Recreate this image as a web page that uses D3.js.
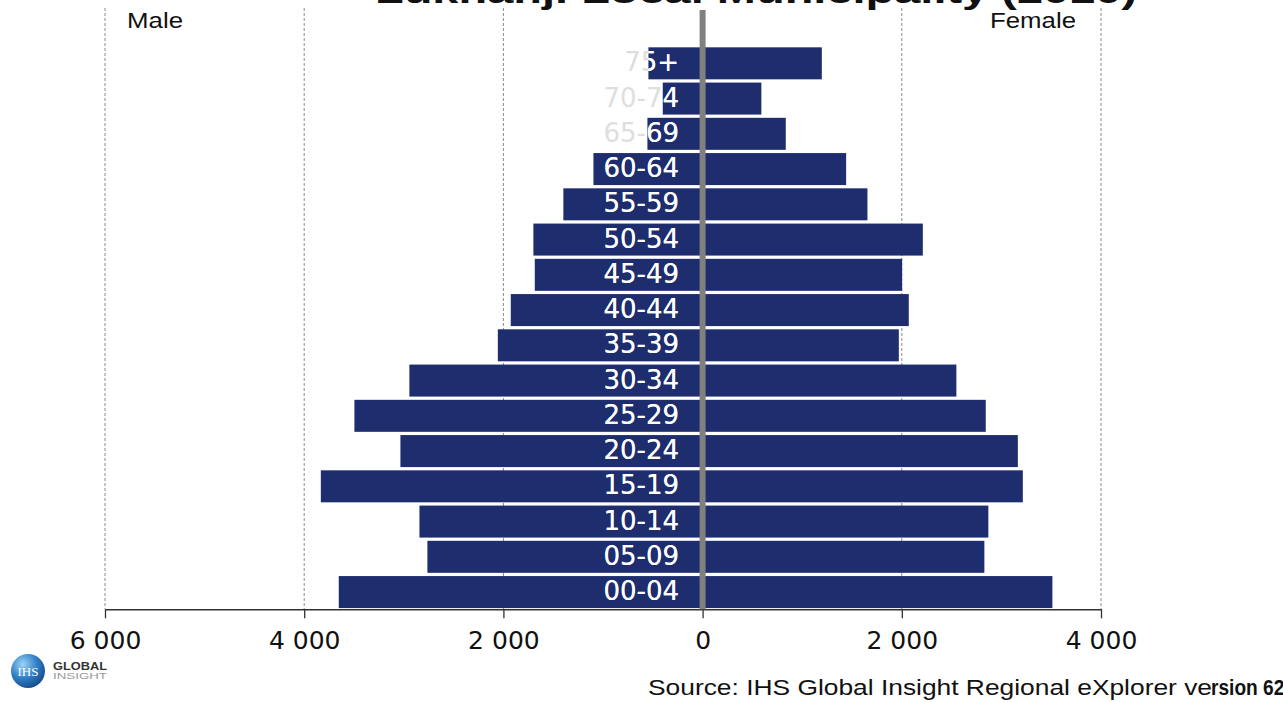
<!DOCTYPE html>
<html>
<head>
<meta charset="utf-8">
<script src="https://cdn.jsdelivr.net/npm/d3@7/dist/d3.min.js"></script>
<style>
  html, body { margin: 0; padding: 0; background: #ffffff; }
  svg { display: block; }
</style>
</head>
<body>
<svg id="chart" width="1283" height="702"></svg>
<script>
// Age groups, oldest at the top
const ageGroups = ["75+", "70-74", "65-69", "60-64", "55-59", "50-54", "45-49", "40-44",
                   "35-39", "30-34", "25-29", "20-24", "15-19", "10-14", "05-09", "00-04"];
// Population counts per age group
const maleValues   = [544, 400, 554, 1096, 1398, 1699, 1685, 1926,
                      2056, 2944, 3496, 3034, 3833, 2843, 2763, 3653];
const femaleValues = [1197, 590, 835, 1441, 1655, 2211, 2003, 2070,
                      1970, 2548, 2843, 3165, 3215, 2869, 2829, 3512];
const tickValues = [-6000, -4000, -2000, 0, 2000, 4000];
const titleText = "Lukhanji Local Municipality (2010)";
const sourceText = "Source: IHS Global Insight Regional eXplorer ve";
const sourceTail = "rsion 620";

const rows = ageGroups.map((g, i) => ({ age: g, male: maleValues[i], female: femaleValues[i] }));

const svg = d3.select("#chart");
const barColor = "#1d2d6e";

const x = d3.scaleLinear().domain([-6000, 4000]).range([105, 1101]);
const y = d3.scaleBand().domain(ageGroups).range([45.7, 609.7])
  .paddingInner(0.092).paddingOuter(0.046);
const axisY = 609.3;

// Title (runs off the top edge)
svg.append("text")
  .attr("x", 375).attr("y", 3)
  .attr("textLength", 762).attr("lengthAdjust", "spacingAndGlyphs")
  .style("font-family", "'Liberation Sans', Arial, sans-serif")
  .style("font-weight", "bold").style("font-size", "32px").attr("fill", "#111")
  .text(titleText);

// Dashed vertical gridlines
svg.append("g").selectAll("line")
  .data(tickValues.filter(v => v !== 0))
  .join("line")
  .attr("x1", d => x(d)).attr("x2", d => x(d))
  .attr("y1", 8).attr("y2", axisY)
  .attr("stroke", "#8a8a8a").attr("stroke-width", 1)
  .attr("stroke-dasharray", "3,2");

// Male bars extend left from zero, female bars to the right
svg.append("g").selectAll("rect")
  .data(rows).join("rect")
  .attr("x", d => x(-d.male)).attr("y", d => y(d.age))
  .attr("width", d => x(0) - x(-d.male)).attr("height", y.bandwidth())
  .attr("fill", barColor);

svg.append("g").selectAll("rect")
  .data(rows).join("rect")
  .attr("x", x(0)).attr("y", d => y(d.age))
  .attr("width", d => x(d.female) - x(0)).attr("height", y.bandwidth())
  .attr("fill", barColor);

// Clip region made of the male bars, so labels turn white over the bars
const clip = svg.append("defs").append("clipPath").attr("id", "maleBars");
clip.selectAll("rect").data(rows).join("rect")
  .attr("x", d => x(-d.male)).attr("y", d => y(d.age))
  .attr("width", d => x(0) - x(-d.male)).attr("height", y.bandwidth());

const labelFont = "'DejaVu Sans', Verdana, sans-serif";
function drawLabels(g, color) {
  g.selectAll("text").data(rows).join("text")
    .attr("x", 679)
    .attr("y", d => y(d.age) + y.bandwidth() / 2 + 8)
    .attr("text-anchor", "end")
    .style("font-family", labelFont).style("font-size", "26px")
    .attr("fill", color)
    .text(d => d.age);
}
drawLabels(svg.append("g"), "#dedede");
drawLabels(svg.append("g").attr("clip-path", "url(#maleBars)"), "#ffffff");

// Horizontal axis
const fmt = v => d3.format(",")(Math.abs(v)).replace(/,/g, " ");
const axis = svg.append("g")
  .attr("transform", `translate(0,${axisY})`)
  .call(d3.axisBottom(x).tickValues(tickValues).tickFormat(fmt)
    .tickSize(9).tickSizeOuter(0).tickPadding(13));
axis.select(".domain").attr("stroke", "#333").attr("stroke-width", 1.5);
axis.selectAll(".tick line").attr("stroke", "#333").attr("stroke-width", 1.3);
axis.selectAll(".tick text")
  .style("font-family", labelFont).style("font-size", "25px").attr("fill", "#111");

// Centre line at zero
svg.append("line")
  .attr("x1", x(0)).attr("x2", x(0)).attr("y1", 10).attr("y2", axisY)
  .attr("stroke", "#808080").attr("stroke-width", 6);

// Side captions
const captionFont = "'Liberation Sans', Arial, sans-serif";
svg.append("text").attr("x", 127).attr("y", 28)
  .attr("textLength", 56).attr("lengthAdjust", "spacingAndGlyphs")
  .style("font-family", captionFont).style("font-size", "22px").attr("fill", "#111")
  .text("Male");
svg.append("text").attr("x", 990).attr("y", 28)
  .attr("textLength", 86).attr("lengthAdjust", "spacingAndGlyphs")
  .style("font-family", captionFont).style("font-size", "22px").attr("fill", "#111")
  .text("Female");

// Source note
svg.append("text").attr("x", 648).attr("y", 695)
  .attr("textLength", 564).attr("lengthAdjust", "spacingAndGlyphs")
  .style("font-family", captionFont).style("font-size", "22px").attr("fill", "#111")
  .text(sourceText);
svg.append("text").attr("x", 1211).attr("y", 695)
  .attr("textLength", 84).attr("lengthAdjust", "spacingAndGlyphs")
  .style("font-family", captionFont).style("font-size", "22px")
  .style("font-weight", "bold").attr("fill", "#111")
  .text(sourceTail);

// Publisher logo
const grad = svg.append("defs").append("radialGradient").attr("id", "logoGrad")
  .attr("cx", "35%").attr("cy", "30%").attr("r", "75%");
grad.append("stop").attr("offset", "0%").attr("stop-color", "#9fd3f5");
grad.append("stop").attr("offset", "55%").attr("stop-color", "#2f7fc6");
grad.append("stop").attr("offset", "100%").attr("stop-color", "#174a8a");
svg.append("circle").attr("cx", 28).attr("cy", 671).attr("r", 17)
  .attr("fill", "url(#logoGrad)");
svg.append("text").attr("x", 28).attr("y", 676).attr("text-anchor", "middle")
  .style("font-family", "'Liberation Serif', serif").style("font-size", "13px")
  .attr("fill", "#fff").text("IHS");
svg.append("text").attr("x", 53).attr("y", 670)
  .attr("textLength", 54).attr("lengthAdjust", "spacingAndGlyphs")
  .style("font-family", captionFont).style("font-size", "10px")
  .style("font-weight", "bold").attr("fill", "#333").text("GLOBAL");
svg.append("text").attr("x", 53).attr("y", 679)
  .attr("textLength", 54).attr("lengthAdjust", "spacingAndGlyphs")
  .style("font-family", captionFont).style("font-size", "9px")
  .attr("fill", "#999").text("INSIGHT");
</script>
</body>
</html>
